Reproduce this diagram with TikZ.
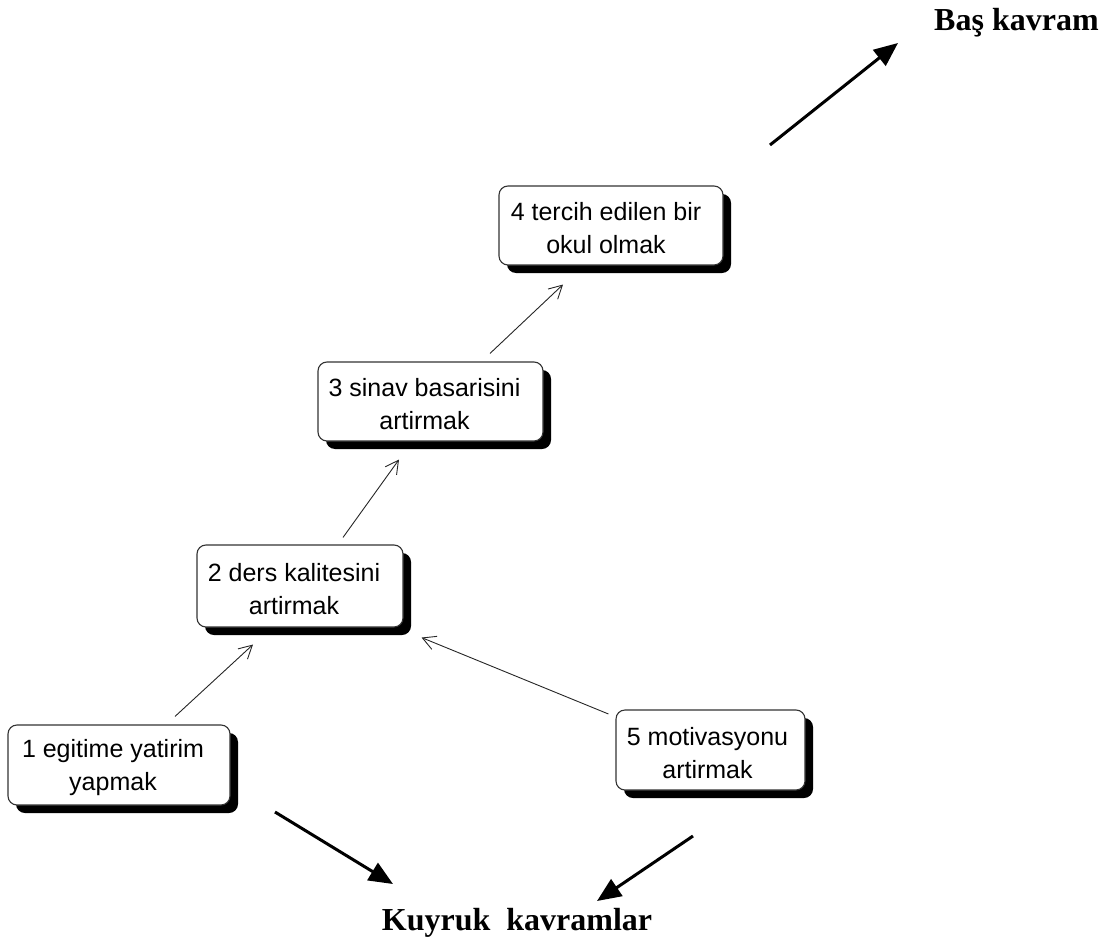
\documentclass[tikz,border=0pt]{standalone}
\usepackage{fontspec}
\setmainfont{Liberation Serif}
\newfontfamily\boxfont{Liberation Sans}
\usetikzlibrary{arrows.meta,shadows,calc}

\begin{document}
\begin{tikzpicture}[x=1pt,y=-1pt,
  conceptbox/.style={draw=black!80, line width=1.1pt, fill=white, rounded corners=9pt,
    inner sep=0pt,
    drop shadow={shadow xshift=8pt, shadow yshift=-8pt, opacity=1, fill=black}},
  boxtext/.style={font=\boxfont\fontsize{25}{33}\selectfont, align=center, inner sep=0pt},
  thinlink/.style={line width=0.9pt, draw=black!85, -{Straight Barb[length=13pt,width=14pt]}},
  boldlink/.style={line width=3pt, -{Triangle[length=24pt,width=20pt]}},
  heading/.style={font=\bfseries\fontsize{32}{36}\selectfont, inner sep=0pt}]
\useasboundingbox (0,0) rectangle (1110,941);

% concept boxes
\node[conceptbox, minimum width=222pt, minimum height=80pt] (b1) at (119,765) {};
\node[conceptbox, minimum width=206pt, minimum height=82pt] (b2) at (300,586) {};
\node[conceptbox, minimum width=225pt, minimum height=79pt] (b3) at (430.5,401.5) {};
\node[conceptbox, minimum width=224pt, minimum height=79pt] (b4) at (611,225.5) {};
\node[conceptbox, minimum width=189pt, minimum height=80pt] (b5) at (710.5,750) {};

% box captions
\node[boxtext] (t1) at ($(b1)+(-6,3)$) {1 egitime yatirim\\yapmak};
\node[boxtext] (t2) at ($(b2)+(-6,3)$) {2 ders kalitesini\\artirmak};
\node[boxtext] (t3) at ($(b3)+(-6,3)$) {3 sinav basarisini\\artirmak};
\node[boxtext] (t4) at ($(b4)+(-5,3)$) {4 tercih edilen bir\\okul olmak};
\node[boxtext] (t5) at ($(b5)+(-3,3)$) {5 motivasyonu\\artirmak};

% links between concepts
\draw[thinlink] ($(b1.north)+(56,-8)$) -- ($(b2.south)+(-47,17)$);
\draw[thinlink] ($(b2.north)+(43,-7)$) -- ($(b3.south)+(-31.5,18)$);
\draw[thinlink] ($(b3.north)+(59.5,-8)$) -- ($(b4.south)+(-48,19)$);
\draw[thinlink] ($(b5.west)+(-7,-36)$) -- ($(b2.south east)+(18,10)$);

% headings
\node[heading, anchor=base west] (head) at (934,31) {Baş kavram};
\node[heading, anchor=base] (tail) at (517,930) {Kuyruk\ \ kavramlar};

% pointer arrows
\coordinate (uptail) at (770,145);
\coordinate (uptip) at (898,43);
\coordinate (ltail) at (275,812);
\coordinate (ltip) at (393,884);
\coordinate (rtail) at (693,836);
\coordinate (rtip) at (597,901);
\draw[boldlink] (uptail) -- (uptip);
\draw[boldlink] (ltail) -- (ltip);
\draw[boldlink] (rtail) -- (rtip);
\end{tikzpicture}
\end{document}
